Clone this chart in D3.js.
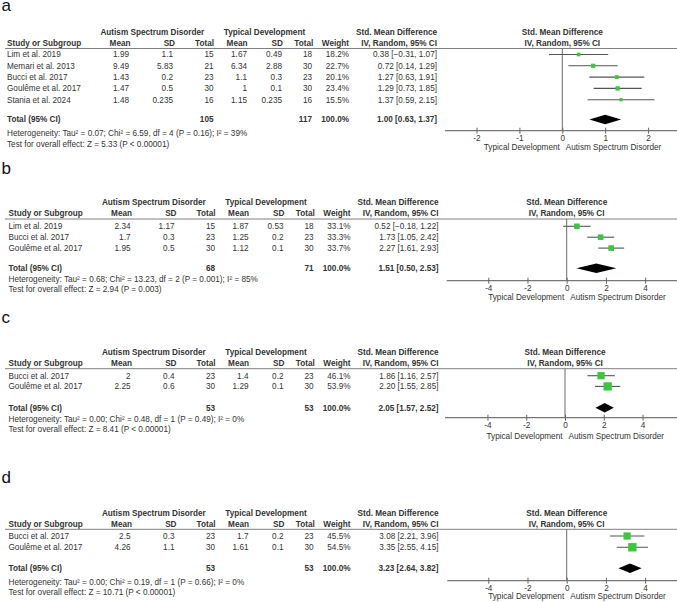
<!DOCTYPE html>
<html><head><meta charset="utf-8">
<script src="https://cdn.jsdelivr.net/npm/d3@7/dist/d3.min.js"></script>
<style>
html,body{margin:0;padding:0;background:#fff;}
svg{display:block;}
text{font-family:"Liberation Sans",Arial,sans-serif;}
</style></head>
<body>
<svg id="chart" width="677" height="602"></svg>
<script>
// ---------- DATA ----------
const panelLabels = ["a", "b", "c", "d"];

// rows: study, ASD mean, ASD SD, ASD total, TD mean, TD SD, TD total, weight %, SMD, lower, upper
const studiesA = [
  ["Lim et al. 2019", "1.99", "1.1", 15, "1.67", "0.49", 18, 18.2, 0.38, -0.31, 1.07],
  ["Memari et al. 2013", "9.49", "5.83", 21, "6.34", "2.88", 30, 22.7, 0.72, 0.14, 1.29],
  ["Bucci et al. 2017", "1.43", "0.2", 23, "1.1", "0.3", 23, 20.1, 1.27, 0.63, 1.91],
  ["Goulême et al. 2017", "1.47", "0.5", 30, "1", "0.1", 30, 23.4, 1.29, 0.73, 1.85],
  ["Stania et al. 2024", "1.48", "0.235", 16, "1.15", "0.235", 16, 15.5, 1.37, 0.59, 2.15]
];
const studiesB = [
  ["Lim et al. 2019", "2.34", "1.17", 15, "1.87", "0.53", 18, 33.1, 0.52, -0.18, 1.22],
  ["Bucci et al. 2017", "1.7", "0.3", 23, "1.25", "0.2", 23, 33.3, 1.73, 1.05, 2.42],
  ["Goulême et al. 2017", "1.95", "0.5", 30, "1.12", "0.1", 30, 33.7, 2.27, 1.61, 2.93]
];
const studiesC = [
  ["Bucci et al. 2017", "2", "0.4", 23, "1.4", "0.2", 23, 46.1, 1.86, 1.16, 2.57],
  ["Goulême et al. 2017", "2.25", "0.6", 30, "1.29", "0.1", 30, 53.9, 2.20, 1.55, 2.85]
];
const studiesD = [
  ["Bucci et al. 2017", "2.5", "0.3", 23, "1.7", "0.2", 23, 45.5, 3.08, 2.21, 3.96],
  ["Goulême et al. 2017", "4.26", "1.1", 30, "1.61", "0.1", 30, 54.5, 3.35, 2.55, 4.15]
];
// totals: ASD total, TD total, SMD, lower, upper
const totalsA = [105, 117, 1.00, 0.63, 1.37];
const totalsB = [68, 71, 1.51, 0.50, 2.53];
const totalsC = [53, 53, 2.05, 1.57, 2.52];
const totalsD = [53, 53, 3.23, 2.64, 3.82];

const heterogeneity = [
  "Heterogeneity: Tau² = 0.07; Chi² = 6.59, df = 4 (P = 0.16); I² = 39%",
  "Heterogeneity: Tau² = 0.68; Chi² = 13.23, df = 2 (P = 0.001); I² = 85%",
  "Heterogeneity: Tau² = 0.00; Chi² = 0.48, df = 1 (P = 0.49); I² = 0%",
  "Heterogeneity: Tau² = 0.00; Chi² = 0.19, df = 1 (P = 0.66); I² = 0%"
];
const overallEffect = [
  "Test for overall effect: Z = 5.33 (P < 0.00001)",
  "Test for overall effect: Z = 2.94 (P = 0.003)",
  "Test for overall effect: Z = 8.41 (P < 0.00001)",
  "Test for overall effect: Z = 10.71 (P < 0.00001)"
];
const ticksA = [-2, -1, 0, 1, 2];
const ticksBCD = [-4, -2, 0, 2, 4];
const axisLimits = [2.734, 6.12, 6.19, 6.09];
const leftLabel = "Typical Development";
const rightLabel = "Autism Spectrum Disorder";

const panelStudies = [studiesA, studiesB, studiesC, studiesD];
const panelTotals = [totalsA, totalsB, totalsC, totalsD];
const panelTicks = [ticksA, ticksBCD, ticksBCD, ticksBCD];

// ---------- LAYOUT ----------
const layout = [
  {lab:10.5, h1:32.3, h2:43.3, line:48.5, row0:54.5, step:11.3, total:119.5, axis:130.7, het:132.7, test:144.3, axLab:147.3, xStart:445, zero:562.3, dx:0},
  {lab:174, h1:202.3, h2:213.3, line:219, row0:226.3, step:10.9, total:268.3, axis:280.7, het:279.3, test:289.3, axLab:296.7, xStart:446.7, zero:566.7, dx:1.5},
  {lab:323, h1:351.7, h2:362.7, line:368.7, row0:375.7, step:10.7, total:407.7, axis:417.7, het:419.3, test:429.3, axLab:436, xStart:445, zero:565, dx:1.5},
  {lab:483, h1:512.7, h2:524.3, line:529.3, row0:536, step:11.3, total:568.3, axis:580.7, het:581.7, test:591.7, axLab:596, xStart:447.3, zero:566.7, dx:1.5}
];
const FS = 8.2;
const textCol = "#333";
const svg = d3.select("#chart");
const sizeScale = d3.scaleLinear().domain([0, 100]).range([1.2, 14.4]);

function txt(g, x, y, s, anchor, bold) {
  return g.append("text").attr("x", x).attr("y", y).attr("dy", "0.35em")
    .attr("text-anchor", anchor || "start")
    .attr("font-size", FS).attr("font-weight", bold ? "bold" : "normal")
    .attr("fill", textCol).text(s);
}

panelLabels.forEach((lbl, p) => {
  const L = layout[p];
  const g = svg.append("g");
  const dx = L.dx;
  const rows = panelStudies[p];
  const tot = panelTotals[p];

  // panel letter
  g.append("text").attr("x", 1.5).attr("y", L.lab).attr("font-family", "'Liberation Serif','Times New Roman',serif")
    .attr("font-size", 17).attr("fill", "#111").text(lbl);

  // column positions (right edges)
  const col = {study: 7 + dx, m1: 129 + dx, sd1: 173 + dx, n1: 213.5 + dx, m2: 247 + dx, sd2: 282 + dx, n2: 312 + dx, w: 349 + dx, ci: 437 + dx};

  // header
  txt(g, 152.3 + dx, L.h1, "Autism Spectrum Disorder", "middle", true);
  txt(g, 264.5 + dx, L.h1, "Typical Development", "middle", true);
  txt(g, col.ci, L.h1, "Std. Mean Difference", "end", true);
  txt(g, L.zero, L.h1, "Std. Mean Difference", "middle", true);
  txt(g, col.study, L.h2, "Study or Subgroup", "start", true);
  txt(g, col.m1 + 1.5, L.h2, "Mean", "end", true);
  txt(g, col.sd1 + 2, L.h2, "SD", "end", true);
  txt(g, col.n1 + 0.5, L.h2, "Total", "end", true);
  txt(g, col.m2 + 0.5, L.h2, "Mean", "end", true);
  txt(g, col.sd2 + 0.8, L.h2, "SD", "end", true);
  txt(g, col.n2 + 1.3, L.h2, "Total", "end", true);
  txt(g, col.w, L.h2, "Weight", "end", true);
  txt(g, col.ci, L.h2, "IV, Random, 95% CI", "end", true);
  txt(g, L.zero, L.h2, "IV, Random, 95% CI", "middle", true);

  g.append("line").attr("x1", 5).attr("x2", 677).attr("y1", L.line).attr("y2", L.line)
    .attr("stroke", "#808080").attr("stroke-width", 1);

  // x scale for plot
  const D = axisLimits[p];
  const x = d3.scaleLinear().domain([-D, D]).range([L.xStart, 2 * L.zero - L.xStart]);

  // zero line
  g.append("line").attr("x1", x(0)).attr("x2", x(0)).attr("y1", L.line).attr("y2", L.axis)
    .attr("stroke", "#6a6a6a").attr("stroke-width", 1);

  const f2 = d3.format(".2f");
  rows.forEach((r, i) => {
    const y = L.row0 + i * L.step;
    txt(g, col.study, y, r[0], "start");
    txt(g, col.m1, y, r[1], "end");
    txt(g, col.sd1, y, r[2], "end");
    txt(g, col.n1, y, r[3], "end");
    txt(g, col.m2, y, r[4], "end");
    txt(g, col.sd2, y, r[5], "end");
    txt(g, col.n2, y, r[6], "end");
    txt(g, col.w, y, r[7].toFixed(1) + "%", "end");
    txt(g, col.ci, y, `${f2(r[8])} [${f2(r[9])}, ${f2(r[10])}]`, "end");
    // CI line
    g.append("line").attr("x1", x(r[9])).attr("x2", x(r[10])).attr("y1", y).attr("y2", y)
      .attr("stroke", "#555").attr("stroke-width", 1.1);
    const s = sizeScale(r[7]);
    g.append("rect").attr("x", x(r[8]) - s / 2).attr("y", y - s / 2).attr("width", s).attr("height", s)
      .attr("fill", "#3ec43e");
  });

  // total row
  txt(g, col.study, L.total, "Total (95% CI)", "start", true);
  txt(g, col.n1, L.total, tot[0], "end", true);
  txt(g, col.n2, L.total, tot[1], "end", true);
  txt(g, col.w, L.total, "100.0%", "end", true);
  txt(g, col.ci, L.total, `${f2(tot[2])} [${f2(tot[3])}, ${f2(tot[4])}]`, "end", true);
  const hh = 4.8;
  g.append("path").attr("d", `M${x(tot[3])},${L.total}L${x(tot[2])},${L.total - hh}L${x(tot[4])},${L.total}L${x(tot[2])},${L.total + hh}Z`)
    .attr("fill", "#000");

  txt(g, col.study, L.het, heterogeneity[p], "start");
  txt(g, col.study, L.test, overallEffect[p], "start");

  // axis
  const ax = g.append("g").attr("transform", `translate(0,${L.axis})`);
  ax.append("line").attr("x1", L.xStart).attr("x2", 677).attr("y1", 0).attr("y2", 0)
    .attr("stroke", "#777").attr("stroke-width", 1.3);
  const axis = d3.axisBottom(x).tickValues(panelTicks[p]).tickSize(3).tickSizeOuter(0)
    .tickFormat(d3.format("d"));
  const axG = ax.append("g").call(axis);
  axG.select(".domain").remove();
  axG.selectAll(".tick line").attr("y1", -3).attr("y2", 3).attr("stroke", "#666").attr("stroke-width", 1);
  axG.selectAll(".tick text").attr("y", 4.5).attr("font-size", FS).attr("fill", textCol)
    .attr("font-family", "'Liberation Sans',Arial,sans-serif").text(d => d < 0 ? "-" + Math.abs(d) : d);

  txt(g, x(0) - 2.5, L.axLab, leftLabel, "end");
  txt(g, x(0) + 3.5, L.axLab, rightLabel, "start");
});
</script>
</body></html>
